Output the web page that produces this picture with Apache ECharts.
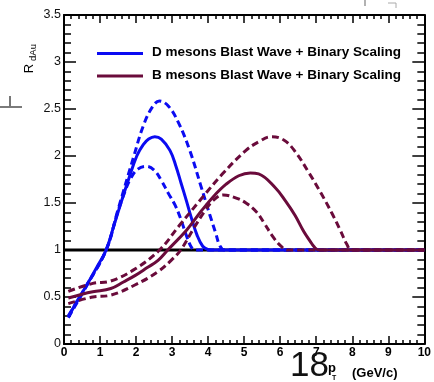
<!DOCTYPE html>
<html>
<head>
<meta charset="utf-8">
<script src="https://cdn.jsdelivr.net/npm/echarts@6/dist/echarts.min.js"></script>
<style>
  html, body { margin: 0; padding: 0; background: #ffffff; }
  #chart { width: 434px; height: 382px; }
</style>
</head>
<body>
<div id="chart"></div>
<script>
// Axis ticks
const xTicks = [0, 1, 2, 3, 4, 5, 6, 7, 8, 9, 10];
const yTicks = [0, 0.5, 1, 1.5, 2, 2.5, 3, 3.5];

// Legend labels
const legendD = 'D mesons Blast Wave + Binary Scaling';
const legendB = 'B mesons Blast Wave + Binary Scaling';

// D mesons: central curve and upper / lower band edges (pT in GeV/c, R_dAu)
const dCentralPt = [0.12, 0.4, 0.66, 0.9, 1.17, 1.4, 1.58, 1.8, 2.02, 2.2, 2.35, 2.52, 2.7, 2.94, 3.1, 3.25, 3.4, 3.52, 3.7, 3.85, 3.99, 4.1, 10];
const dCentralR  = [0.29, 0.48, 0.645, 0.81, 1.0, 1.28, 1.5, 1.76, 2.0, 2.12, 2.18, 2.205, 2.18, 2.06, 1.9, 1.71, 1.52, 1.36, 1.15, 1.04, 1.005, 1.0, 1.0];

const dUpperPt = [0.12, 0.66, 1.17, 1.5, 1.94, 2.2, 2.45, 2.65, 2.9, 3.17, 3.49, 3.8, 4.05, 4.21, 4.32, 4.45, 10];
const dUpperR  = [0.30, 0.645, 1.0, 1.43, 2.0, 2.32, 2.52, 2.585, 2.53, 2.36, 2.06, 1.68, 1.37, 1.18, 1.05, 1.0, 1.0];

const dLowerPt = [0.12, 0.66, 1.17, 1.45, 1.65, 1.85, 2.05, 2.29, 2.5, 2.7, 2.9, 3.08, 3.25, 3.4, 3.55, 3.65, 10];
const dLowerR  = [0.28, 0.64, 1.0, 1.35, 1.58, 1.76, 1.86, 1.89, 1.85, 1.74, 1.6, 1.48, 1.32, 1.15, 1.02, 1.0, 1.0];

// B mesons: central curve and upper / lower band edges
const bCentralPt = [0.12, 0.5, 0.8, 1.3, 1.65, 1.98, 2.3, 2.61, 2.88, 3.4, 3.8, 4.15, 4.5, 4.85, 5.17, 5.4, 5.87, 6.15, 6.41, 6.65, 6.82, 6.95, 7.08, 10];
const bCentralR  = [0.49, 0.53, 0.556, 0.59, 0.66, 0.73, 0.81, 0.89, 1.0, 1.21, 1.41, 1.57, 1.7, 1.79, 1.82, 1.81, 1.66, 1.52, 1.37, 1.2, 1.1, 1.03, 1.0, 1.0];

const bUpperPt = [0.12, 0.8, 1.3, 1.98, 2.65, 3.2, 3.8, 4.4, 5.05, 5.4, 5.75, 6.1, 6.41, 6.8, 7.14, 7.45, 7.68, 7.85, 7.98, 10];
const bUpperR  = [0.56, 0.645, 0.67, 0.80, 1.0, 1.26, 1.54, 1.81, 2.06, 2.15, 2.205, 2.17, 2.05, 1.82, 1.60, 1.38, 1.2, 1.06, 1.0, 1.0];

const bLowerPt = [0.12, 0.8, 1.3, 1.98, 2.61, 3.0, 3.24, 3.6, 3.9, 4.15, 4.42, 4.8, 5.05, 5.33, 5.55, 5.78, 6.0, 6.2, 10];
const bLowerR  = [0.43, 0.50, 0.52, 0.63, 0.77, 0.9, 1.0, 1.23, 1.41, 1.53, 1.585, 1.55, 1.5, 1.41, 1.29, 1.15, 1.05, 1.0, 1.0];

// Unity reference line
const unityPt = [0, 10];
const unityR  = [1, 1];

const BLUE = '#0b0bf2';
const MAROON = '#6a0b3b';
const FONT = '"Liberation Sans", Arial, Helvetica, sans-serif';

const pairs = (xs, ys) => xs.map((x, i) => [x, ys[i]]);

function curve(name, xs, ys, color, dashed, z) {
  return {
    name: name,
    type: 'line',
    data: pairs(xs, ys),
    xAxisIndex: 0,
    yAxisIndex: 0,
    showSymbol: false,
    symbol: 'none',
    smooth: 0.4,
    silent: true,
    z: z,
    lineStyle: { color: color, width: 3, type: dashed ? [7, 4] : 'solid', cap: 'butt', join: 'round' },
    emphasis: { disabled: true }
  };
}

function axisCommon(extra) {
  return Object.assign({
    type: 'value',
    axisLine: { show: true, onZero: false, lineStyle: { color: '#000', width: 2 } },
    splitLine: { show: false },
    minorSplitLine: { show: false }
  }, extra);
}

const chart = echarts.init(document.getElementById('chart'), null, { renderer: 'canvas' });

const option = {
  animation: false,
  backgroundColor: '#ffffff',
  grid: { left: 64, top: 15, right: 1.5, bottom: 38, containLabel: false },
  xAxis: [
    axisCommon({
      position: 'bottom',
      min: xTicks[0], max: xTicks[xTicks.length - 1], interval: xTicks[1] - xTicks[0],
      axisTick: { show: true, inside: true, length: 8, lineStyle: { color: '#000', width: 1.5 } },
      minorTick: { show: true, splitNumber: 5, length: 4, lineStyle: { color: '#000', width: 1.5 } },
      axisLabel: { show: true, margin: 3, color: '#000', fontSize: 12, fontWeight: 'bold', fontFamily: FONT }
    }),
    axisCommon({
      position: 'top',
      min: xTicks[0], max: xTicks[xTicks.length - 1], interval: xTicks[1] - xTicks[0],
      axisTick: { show: true, inside: true, length: 8, lineStyle: { color: '#000', width: 1.5 } },
      minorTick: { show: true, splitNumber: 5, length: 4, lineStyle: { color: '#000', width: 1.5 } },
      axisLabel: { show: false }
    })
  ],
  yAxis: [
    axisCommon({
      position: 'left',
      min: yTicks[0], max: yTicks[yTicks.length - 1], interval: yTicks[1] - yTicks[0],
      axisTick: { show: true, inside: true, length: 12, lineStyle: { color: '#000', width: 1.5 } },
      minorTick: { show: true, splitNumber: 5, length: 7, lineStyle: { color: '#000', width: 1.5 } },
      axisLabel: { show: true, margin: 3, color: '#111', fontSize: 12.5, fontFamily: FONT }
    }),
    axisCommon({
      position: 'right',
      min: yTicks[0], max: yTicks[yTicks.length - 1], interval: yTicks[1] - yTicks[0],
      axisTick: { show: true, inside: true, length: 12, lineStyle: { color: '#000', width: 1.5 } },
      minorTick: { show: true, splitNumber: 5, length: 7, lineStyle: { color: '#000', width: 1.5 } },
      axisLabel: { show: false }
    })
  ],
  series: [
    {
      name: 'unity', type: 'line', data: pairs(unityPt, unityR), showSymbol: false, symbol: 'none',
      silent: true, z: 1, lineStyle: { color: '#000', width: 3 }
    },
    curve(legendD, dCentralPt, dCentralR, BLUE, false, 3),
    curve('D upper', dUpperPt, dUpperR, BLUE, true, 2),
    curve('D lower', dLowerPt, dLowerR, BLUE, true, 2),
    curve(legendB, bCentralPt, bCentralR, MAROON, false, 5),
    curve('B upper', bUpperPt, bUpperR, MAROON, true, 4),
    curve('B lower', bLowerPt, bLowerR, MAROON, true, 4)
  ],
  graphic: [
    // legend
    { type: 'line', shape: { x1: 97, y1: 53.5, x2: 143, y2: 53.5 }, style: { stroke: BLUE, lineWidth: 3 }, z: 10 },
    { type: 'text', x: 152, y: 52, style: { text: legendD, fill: '#000', font: 'bold 13.5px ' + FONT, textVerticalAlign: 'middle' }, z: 10 },
    { type: 'line', shape: { x1: 97, y1: 76, x2: 143, y2: 76 }, style: { stroke: MAROON, lineWidth: 3 }, z: 10 },
    { type: 'text', x: 152, y: 75, style: { text: legendB, fill: '#000', font: 'bold 13.5px ' + FONT, textVerticalAlign: 'middle' }, z: 10 },
    // y-axis title R_dAu
    { type: 'text', x: 29, y: 68.5, rotation: Math.PI / 2, style: { text: 'R', fill: '#000', font: '13px ' + FONT, textAlign: 'center', textVerticalAlign: 'middle' }, z: 10 },
    { type: 'text', x: 33.5, y: 52.5, rotation: Math.PI / 2, style: { text: 'dAu', fill: '#000', font: '9.5px ' + FONT, textAlign: 'center', textVerticalAlign: 'middle' }, z: 10 },
    // x-axis title
    { type: 'text', x: 290, y: 366, style: { text: '18', fill: '#111', font: '35px ' + FONT, textVerticalAlign: 'middle' }, z: 10 },
    { type: 'text', x: 328, y: 368, style: { text: 'p', fill: '#000', font: 'bold 13px ' + FONT, textVerticalAlign: 'middle' }, z: 10 },
    { type: 'text', x: 332, y: 378, style: { text: 'T', fill: '#000', font: 'bold 7px ' + FONT, textVerticalAlign: 'middle' }, z: 10 },
    { type: 'text', x: 352, y: 373, style: { text: '(GeV/c)', fill: '#000', font: 'bold 13px ' + FONT, textVerticalAlign: 'middle' }, z: 10 },
    // stray marks outside the frame
    { type: 'line', shape: { x1: 0, y1: 107, x2: 22, y2: 107 }, style: { stroke: '#222', lineWidth: 1.2 }, z: 10 },
    { type: 'line', shape: { x1: 10, y1: 96, x2: 10, y2: 107 }, style: { stroke: '#777', lineWidth: 2 }, z: 10 },
    { type: 'line', shape: { x1: 365, y1: 0, x2: 365, y2: 6 }, style: { stroke: '#999', lineWidth: 1.5 }, z: 10 },
    { type: 'line', shape: { x1: 388, y1: 3, x2: 396, y2: 3 }, style: { stroke: '#aaa', lineWidth: 1 }, z: 10 },
    { type: 'line', shape: { x1: 396, y1: 3, x2: 396, y2: 8 }, style: { stroke: '#aaa', lineWidth: 1 }, z: 10 }
  ]
};

chart.setOption(option);
</script>
</body>
</html>
